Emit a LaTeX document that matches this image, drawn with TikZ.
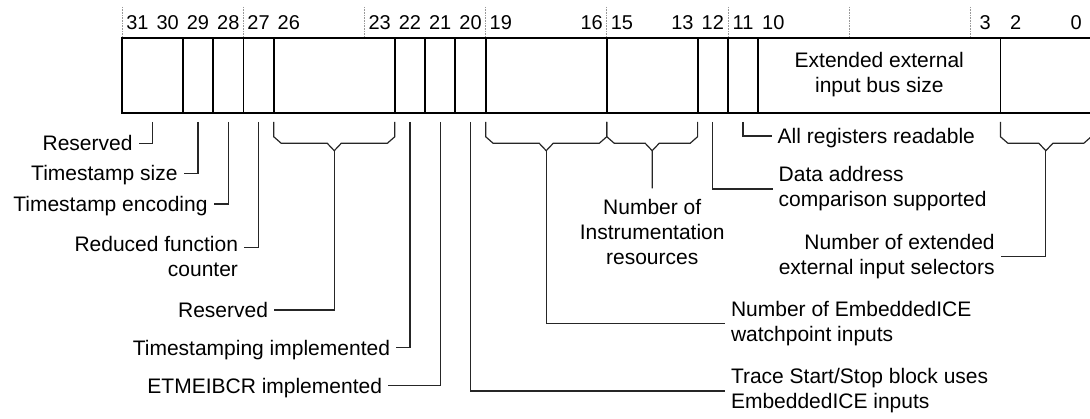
\documentclass[tikz,border=0pt]{standalone}
\usepackage{fontspec}
\setmainfont{Liberation Sans}
\usetikzlibrary{positioning}
\tikzset{
  field/.style={draw, line width=1.8pt, minimum height=75pt, inner sep=0pt, outer sep=0pt, anchor=north west},
  bitnum/.style={font=\fontsize{20}{24}\selectfont, anchor=base, inner sep=0pt},
  nibble/.style={densely dotted, gray!80, line width=0.6pt},
  leader/.style={line width=1.2pt, black!85},
  lbl/.style={font=\fontsize{21}{25}\selectfont, inner xsep=6pt, inner ysep=0pt, outer sep=0pt},
  oneline/.style={lbl, text height=15pt, text depth=0pt},
}
% bracket under a multi-bit field, tip named <field>-tip
\newcommand{\fieldbrace}[1]{%
  \draw[leader] ([yshift=-8.7pt]#1.south west) -- ++(0,14.7) -- ++(7.5,6.6)
    -- ([xshift=-7pt,yshift=-30pt]#1.south) -- ([yshift=-37.4pt]#1.south)
    -- ([xshift=7pt,yshift=-30pt]#1.south) -- ([xshift=-7.5pt,yshift=-30pt]#1.south east)
    -- ++(7.5,-6.6) -- ++(0,-14.7);
  \coordinate (#1-tip) at ([yshift=-37.4pt]#1.south);}
\begin{document}
\begin{tikzpicture}[x=1pt,y=-1pt]
\useasboundingbox (0,0) rectangle (1090,419);
% bit numbers and nibble marks
\foreach \n in {0,4,...,28}
  \draw[nibble] ({122.3+\n*30.28},7) -- ++(0,31);
\foreach \b in {31,30,29,28,27,26,23,22,21,20,19,16,15,13,12,11,10,3,2,0}
  \node[bitnum] (n\b) at ({122.3+(31.5-\b)*30.28},29.3) {\b};
% register fields
\foreach \hi/\lo in {31/30,29/29,28/28,27/27,26/23,22/22,21/21,20/20,19/16,15/13,12/12,11/11,2/0}
  \node[field, minimum width={(\hi-\lo+1)*30.28pt}] (f\lo) at ({122.3+(31-\hi)*30.28},38.3) {};
\node[field, minimum width=242.24pt] (f3) at ({122.3+21*30.28},38.3) {};
\node[lbl, align=center] (busTxt) at ([yshift=1.5pt]f3.center) {Extended external\\input bus size};
% brackets
\fieldbrace{f23}
\fieldbrace{f16}
\fieldbrace{f13}
\fieldbrace{f0}
% labels on the left
\node[oneline, anchor=east] (lRsvdHi) at (138.5,143.3) {Reserved};
\node[oneline, anchor=east] (lTsSize) at (183.5,173.5) {Timestamp size};
\node[oneline, anchor=east] (lTsEnc) at (213.5,204) {Timestamp encoding};
\coordinate (eRfc) at (244,247.3);
\node[lbl, align=right, anchor=base east] (lRfc) at ([yshift=-29.4pt]eRfc) {Reduced function\\counter};
\node[oneline, anchor=east] (lRsvdMid) at (274,310) {Reserved};
\node[oneline, anchor=east] (lTsImpl) at (396,347.7) {Timestamping implemented};
\node[oneline, anchor=east] (lEtm) at (388,385.7) {ETMEIBCR implemented};
% labels on the right
\node[lbl, align=left, anchor=west] (lTrace) at (725,391) {Trace Start/Stop block uses\\EmbeddedICE inputs};
\node[lbl, align=left, anchor=west] (lEmbIce) at (725,323.3) {Number of EmbeddedICE\\watchpoint inputs};
\coordinate (eInstr) at (652.2,188.3);
\node[lbl, align=center, below=11.4pt of eInstr] (lInstr) {Number of\\Instrumentation\\resources};
\node[lbl, align=left, anchor=west] (lData) at (772.7,189) {Data address\\comparison supported};
\node[oneline, anchor=west] (lAllReg) at (771.7,136) {All registers readable};
\node[lbl, align=right, anchor=east] (lExtSel) at (1000.7,256.7) {Number of extended\\external input selectors};
% leaders
\draw[leader] ([yshift=-8.7pt]f30.south) |- (lRsvdHi.east);
\draw[leader] ([yshift=-8.7pt]f29.south) |- (lTsSize.east);
\draw[leader] ([yshift=-8.7pt]f28.south) |- (lTsEnc.east);
\draw[leader] ([yshift=-8.7pt]f27.south) |- (eRfc);
\draw[leader] (f23-tip) |- (lRsvdMid.east);
\draw[leader] ([yshift=-8.7pt]f22.south) |- (lTsImpl.east);
\draw[leader] ([yshift=-8.7pt]f21.south) |- (lEtm.east);
\draw[leader] ([yshift=-8.7pt]f20.south) |- (lTrace.west);
\draw[leader] (f16-tip) |- (lEmbIce.west);
\draw[leader] (f13-tip) -- (eInstr);
\draw[leader] ([yshift=-8.7pt]f12.south) |- (lData.west);
\draw[leader] ([yshift=-8.7pt]f11.south) |- (lAllReg.west);
\draw[leader] (f0-tip) |- (lExtSel.east);
\end{tikzpicture}
\end{document}
